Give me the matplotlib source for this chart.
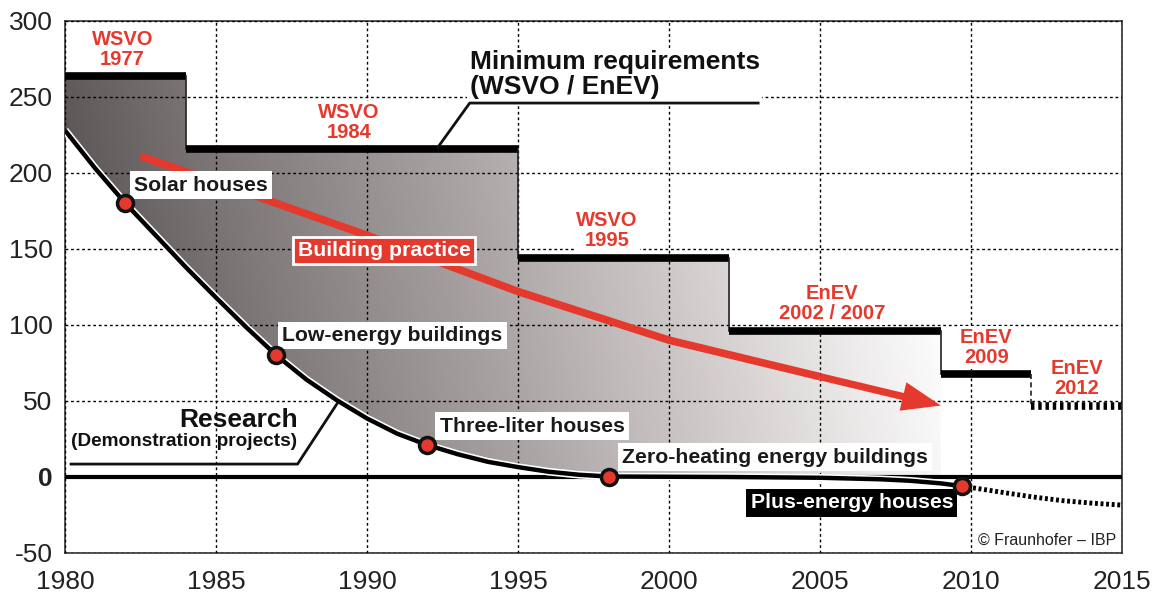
import numpy as np
import matplotlib
matplotlib.use("Agg")
import matplotlib.pyplot as plt
import matplotlib.patheffects as pe
from matplotlib.colors import LinearSegmentedColormap
from matplotlib.patches import Polygon

plt.rcParams['font.family'] = ['Liberation Sans', 'DejaVu Sans']
plt.rcParams['axes.unicode_minus'] = False

# minimum requirements (WSVO / EnEV), kWh/m²a
req_start = [1980, 1984, 1995, 2002, 2009, 2012]
req_end = [1984, 1995, 2002, 2009, 2012, 2015]
req_level = [264, 216, 144, 96, 68, 47]
req_labels = ["WSVO\n1977", "WSVO\n1984", "WSVO\n1995", "EnEV\n2002 / 2007", "EnEV\n2009", "EnEV\n2012"]
req_label_pos = [(1981.9, 281), (1989.4, 233), (1997.95, 162), (2005.4, 114), (2010.5, 85), (2013.5, 65)]

# research (demonstration projects) curve
res_years = [1980, 1981, 1982, 1983, 1984, 1985, 1986, 1987, 1988, 1989, 1990, 1991,
             1992, 1993, 1994, 1995, 1996, 1997, 1998, 2002, 2005, 2007, 2008, 2009, 2009.7]
res_vals = [228, 203, 180, 159, 138, 118, 98.5, 80, 64, 50.5, 38.5, 28.5,
            21, 15, 10, 6.5, 3.5, 1.5, 0.3, 0, -0.5, -1.5, -2.5, -4.2, -6]
# outlook beyond 2010 (dotted)
out_years = [2009.7, 2011, 2012, 2013, 2014, 2015]
out_vals = [-6, -10, -13, -15.5, -17.2, -18.5]

# milestones on the research curve
ms_years = [1982, 1987, 1992, 1998, 2009.7]
ms_vals = [180, 80, 21, 0.3, -6]
ms_labels = ["Solar houses", "Low-energy buildings", "Three-liter houses",
             "Zero-heating energy buildings", "Plus-energy houses"]
ms_label_pos = [(1982.3, 192), (1987.2, 93), (1992.4, 33.5), (1998.45, 13), (2002.7, -17)]

# building practice trend
prac_years = [1982.5, 1985, 1990, 1995, 2000, 2005, 2009]
prac_vals = [211, 194, 159, 122, 90, 66, 47]

red = '#e5392d'

fig = plt.figure(figsize=(11.59, 5.99), dpi=100)
ax = fig.add_axes([0.0561, 0.0768, 0.9120, 0.8882])
ax.set_xlim(1980, 2015)
ax.set_ylim(-50, 300)

# gray gradient area between requirements and research curve
top_x, top_y = [], []
for s, e, v in zip(req_start[:4], req_end[:4], req_level[:4]):
    top_x += [s, e]
    top_y += [v, v]
bot = [(x, y) for x, y in zip(res_years, res_vals) if x <= 2009]
poly_xy = list(zip(top_x, top_y)) + [(2009, bot[-1][1])] + bot[::-1]
poly = Polygon(poly_xy, closed=True, fc='none', ec='none', transform=ax.transData)
ax.add_patch(poly)
cmap = LinearSegmentedColormap.from_list('g', ['#4c4747', '#7d7777', '#a9a2a2', '#d6d1d1', '#ffffff'])
gx, gy = np.meshgrid(np.linspace(0, 1, 400), np.linspace(0, 1, 200))
grad = np.clip(0.95 * gx + 0.12 * gy, 0, 1)
im = ax.imshow(grad, extent=[1980, 2009.2, 300, -20], cmap=cmap, aspect='auto',
               origin='upper', zorder=1, interpolation='bilinear')
im.set_clip_path(poly)
ax.set_xlim(1980, 2015)
ax.set_ylim(-50, 300)

# grid
ax.set_xticks(range(1980, 2016, 5))
ax.set_yticks(range(-50, 301, 50))
ax.grid(True, color='black', linestyle=(0, (2, 2)), linewidth=1.0, zorder=2)
ax.set_axisbelow(False)
ax.tick_params(length=0, labelsize=19, colors='#222222')
ax.tick_params(axis='y', pad=9)
ax.tick_params(axis='x', pad=12)
for lab in ax.get_yticklabels():
    if lab.get_text() == '0':
        lab.set_fontweight('bold')
for sp in ax.spines.values():
    sp.set_linewidth(1.2)
    sp.set_color('#333333')

# zero line
ax.axhline(0, color='black', lw=3, zorder=4)

# requirement steps
for i, (s, e, v) in enumerate(zip(req_start, req_end, req_level)):
    if i < 5:
        ax.plot([s, e], [v, v], color='black', lw=5.5, solid_capstyle='butt', zorder=3)
    else:
        ax.plot([s, e], [v, v], color='black', lw=5.5, linestyle=(0, (0.45, 0.5)), zorder=3)
    if i < len(req_start) - 1:
        ls = '-' if i < 4 else (0, (3, 2))
        ax.plot([e, e], [v, req_level[i + 1]], color='#222222', lw=1.2, linestyle=ls, zorder=3)
for lab, (x, y) in zip(req_labels, req_label_pos):
    ax.text(x, y, lab, color=red, fontsize=14.5, fontweight='bold', ha='center', va='center',
            linespacing=1.05, zorder=6,
            bbox=dict(boxstyle='square,pad=0.1', fc='white', ec='none'))

# building practice arrow
ax.plot(prac_years[:-1], prac_vals[:-1], color=red, lw=5.5, solid_capstyle='butt', zorder=4)
ax.annotate('', xy=(prac_years[-1], prac_vals[-1]), xytext=(prac_years[-2], prac_vals[-2]),
            arrowprops=dict(facecolor=red, edgecolor='none', width=5.2, headwidth=21,
                            headlength=28, shrink=0), zorder=4)
ax.text(1987.7, 149, "Building practice", color='white', fontsize=15.3, fontweight='bold',
        ha='left', va='center', zorder=6,
        bbox=dict(boxstyle='square,pad=0.2', fc=red, ec='white', lw=2))

# research curve
halo = [pe.Stroke(linewidth=5.5, foreground='white'), pe.Normal()]
ax.plot(res_years, res_vals, color='black', lw=3.2, zorder=5, path_effects=halo,
        solid_capstyle='butt', solid_joinstyle='round')
ax.plot(out_years, out_vals, color='black', lw=3.5, linestyle=(0, (0.6, 0.55)), zorder=5)

for i, (lab, (x, y)) in enumerate(zip(ms_labels, ms_label_pos)):
    fc, tc = ('black', 'white') if i == 4 else ('white', '#1a1a1a')
    ax.text(x, y, lab, color=tc, fontsize=15.3, fontweight='bold', ha='left',
            va='center', zorder=6,
            bbox=dict(boxstyle='square,pad=0.2', fc=fc, ec='none'))
ax.plot(ms_years, ms_vals, 'o', ms=11.5, mfc=red, mec='#111111', mew=2.5, zorder=7)

# annotation: minimum requirements
ax.text(1993.4, 264.5, "Minimum requirements\n(WSVO / EnEV)", color='#111111', fontsize=19,
        fontweight='bold', ha='left', va='center', linespacing=1.05, zorder=6,
        bbox=dict(boxstyle='square,pad=0.1', fc='white', ec='none'))
ax.plot([1992.35, 1993.4, 2002.95], [217, 246, 246], color='#111111', lw=2, zorder=6)

# annotation: research
ax.text(1987.7, 37.5, "Research", color='#111111', fontsize=19, fontweight='bold',
        ha='right', va='center', zorder=6)
ax.text(1987.7, 23.5, "(Demonstration projects)", color='#111111', fontsize=13.7,
        fontweight='bold', ha='right', va='center', zorder=6)
ax.plot([1980.2, 1987.7, 1989.0], [8.5, 8.5, 48], color='#111111', lw=2, zorder=6)

ax.text(2014.8, -41.5, "\u00a9 Fraunhofer \u2013 IBP", color='#222222', fontsize=11.5,
        ha='right', va='center', zorder=6)

fig.savefig('out.png', dpi=100)
